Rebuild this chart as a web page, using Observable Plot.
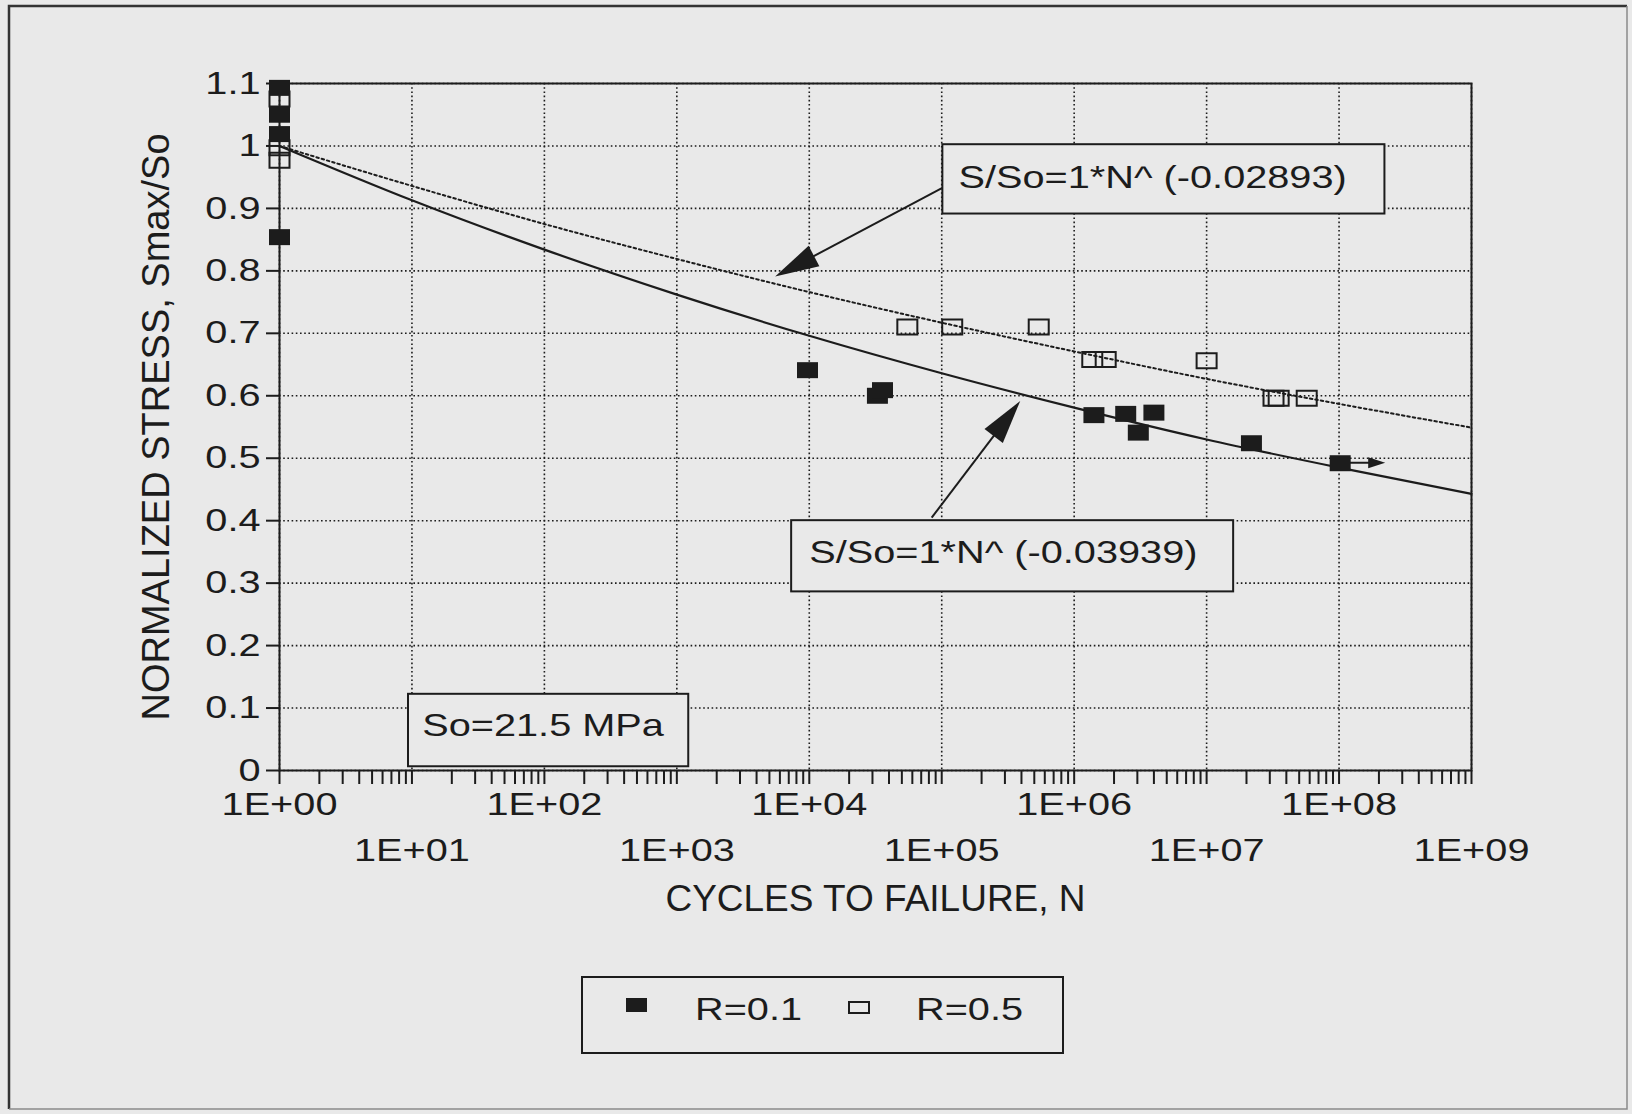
<!DOCTYPE html>
<html><head><meta charset="utf-8">
<script src="https://cdn.jsdelivr.net/npm/d3@7"></script>
<script src="https://cdn.jsdelivr.net/npm/@observablehq/plot@0.6"></script>
<style>
html,body{margin:0;padding:0;background:#e9e9e9;}
#chart svg{display:block;}
</style></head><body><div id="chart"></div>
<script>
// ---------- data ----------
// R = 0.1 (filled squares)
const filledN = [1, 1, 1, 1, 9.7e3, 3.27e4, 3.57e4, 1.41e6, 2.45e6, 3.05e6, 4.0e6, 2.18e7, 1.02e8];
const filledS = [1.093, 1.050, 1.019, 0.854, 0.641, 0.600, 0.609, 0.569, 0.571, 0.541, 0.573, 0.524, 0.492];
// R = 0.5 (open squares)
const openN = [1, 1, 1, 5.5e4, 1.2e5, 5.4e5, 1.37e6, 1.73e6, 1.0e7, 3.2e7, 3.5e7, 5.7e7];
const openS = [1.075, 0.997, 0.977, 0.710, 0.710, 0.710, 0.658, 0.658, 0.656, 0.596, 0.596, 0.596];
// run-out (unbroken specimen) arrow
const runoutFromN = [1.02e8];
const runoutToN = [2.25e8];
const runoutS = [0.492];
// fitted curves, read at each decade
const fitN = [1, 1e1, 1e2, 1e3, 1e4, 1e5, 1e6, 1e7, 1e8, 1e9];
const fitR01 = [1.000, 0.913, 0.834, 0.762, 0.696, 0.636, 0.581, 0.530, 0.485, 0.443];
const fitR05 = [1.000, 0.936, 0.875, 0.819, 0.766, 0.717, 0.671, 0.627, 0.587, 0.549];
// axis ticks & labels
const xEvenTicks = [1, 1e2, 1e4, 1e6, 1e8];
const xEvenLabels = ["1E+00", "1E+02", "1E+04", "1E+06", "1E+08"];
const xOddTicks = [1e1, 1e3, 1e5, 1e7, 1e9];
const xOddLabels = ["1E+01", "1E+03", "1E+05", "1E+07", "1E+09"];
const yTicks = [0, 0.1, 0.2, 0.3, 0.4, 0.5, 0.6, 0.7, 0.8, 0.9, 1, 1.1];
const yTickLabels = ["0", "0.1", "0.2", "0.3", "0.4", "0.5", "0.6", "0.7", "0.8", "0.9", "1", "1.1"];
const xTitle = "CYCLES TO FAILURE, N";
const yTitle = "NORMALIZED STRESS, Smax/So";
// annotation boxes (data coordinates)
const noteText = ["S/So=1*N^ (-0.02893)", "S/So=1*N^ (-0.03939)", "So=21.5 MPa"];
const noteBoxN1 = [1.02e5, 7.36e3, 9.42];
const noteBoxN2 = [2.22e8, 1.60e7, 1.23e3];
const noteBoxS1 = [0.891, 0.286, 0.006];
const noteBoxS2 = [1.002, 0.400, 0.122];
const noteTextN = [1.34e5, 1.0e4, 11.96];
const noteTextS = [0.949, 0.349, 0.071];
// annotation arrows (data coordinates)
const arrowFromN = [1.02e5, 8.47e4];
const arrowFromS = [0.932, 0.404];
const arrowToN = [5.57e3, 3.95e5];
const arrowToS = [0.790, 0.591];
// legend
const legendLabels = ["R=0.1", "R=0.5"];

// ---------- styling ----------
const W = 1632, H = 1114;
const BG = "#e9e9e9";
const INK = "#1c1c1c";
const FONT = "'Liberation Sans', Arial, Helvetica, sans-serif";
const SMALL = 31.5;
const STRETCH = 1.26;

const filled = filledN.map((n, i) => ({N: n, S: filledS[i]}));
const open = openN.map((n, i) => ({N: n, S: openS[i]}));
const curveR01 = fitN.map((n, i) => ({N: n, S: fitR01[i]}));
const curveR05 = fitN.map((n, i) => ({N: n, S: fitR05[i]}));
const notes = noteText.map((t, i) => ({label: t, N1: noteBoxN1[i], N2: noteBoxN2[i], S1: noteBoxS1[i], S2: noteBoxS2[i], tN: noteTextN[i], tS: noteTextS[i]}));
const arrows = arrowFromN.map((n, i) => ({N1: n, S1: arrowFromS[i], N2: arrowToN[i], S2: arrowToS[i], big: true}))
  .concat(runoutFromN.map((n, i) => ({N1: n, S1: runoutS[i], N2: runoutToN[i], S2: runoutS[i], big: false})));

const xTicks = [];
for (let k = 0; k < 9; ++k) for (let m = 1; m < 10; ++m) xTicks.push(m * Math.pow(10, k));
xTicks.push(1e9);

const rectSymbol = (w, h) => ({draw(ctx) { ctx.rect(-w / 2, -h / 2, w, h); }});

function arrowMark(index, scales) {
  const X = scales.x, Y = scales.y;
  const g = d3.create("svg:g");
  for (const a of arrows) {
    const x1 = X(a.N1), y1 = Y(a.S1), x2 = X(a.N2), y2 = Y(a.S2);
    const dx = x2 - x1, dy = y2 - y1, L = Math.hypot(dx, dy);
    const ux = dx / L, uy = dy / L;
    const hl = a.big ? 44 : 17, hw = a.big ? 23 : 11;
    const bx = x2 - ux * hl, by = y2 - uy * hl;
    g.append("line").attr("x1", x1).attr("y1", y1).attr("x2", bx + ux * 3).attr("y2", by + uy * 3)
      .attr("stroke", INK).attr("stroke-width", 2);
    g.append("path")
      .attr("d", `M${x2},${y2}L${bx - uy * hw / 2},${by + ux * hw / 2}L${bx + uy * hw / 2},${by - ux * hw / 2}Z`)
      .attr("fill", INK);
  }
  return g.node();
}

function legendMark() {
  const g = d3.create("svg:g");
  // outer page border
  g.append("path").attr("d", "M9,1109V6H1627").attr("fill", "none").attr("stroke", "#333").attr("stroke-width", 2.5);
  g.append("path").attr("d", "M1627,6V1109H9").attr("fill", "none").attr("stroke", "#8a8a8a").attr("stroke-width", 1.5);
  // legend box
  g.append("rect").attr("x", 582).attr("y", 977).attr("width", 481).attr("height", 76)
    .attr("fill", "none").attr("stroke", INK).attr("stroke-width", 2);
  g.append("rect").attr("x", 626).attr("y", 998).attr("width", 21).attr("height", 14).attr("fill", INK);
  g.append("rect").attr("x", 849).attr("y", 1002).attr("width", 20).attr("height", 11)
    .attr("fill", "none").attr("stroke", INK).attr("stroke-width", 2);
  g.append("text").attr("x", 695).attr("y", 1020).attr("text-anchor", "start").attr("font-size", SMALL).attr("fill", INK).text(legendLabels[0]);
  g.append("text").attr("x", 916).attr("y", 1020).attr("text-anchor", "start").attr("font-size", SMALL).attr("fill", INK).text(legendLabels[1]);
  return g.node();
}

const gridStyle = {stroke: INK, strokeOpacity: 1, strokeWidth: 1.6, strokeDasharray: "1.6,2.6"};

const chart = Plot.plot({
  width: W, height: H,
  marginLeft: 279, marginRight: 161, marginTop: 83, marginBottom: 344,
  style: {background: BG, color: INK, fontFamily: FONT, fontSize: SMALL + "px"},
  x: {type: "log", domain: [1, 1e9]},
  y: {domain: [0, 1.1]},
  marks: [
    Plot.gridX(fitN, gridStyle),
    Plot.gridY(yTicks, gridStyle),
    Plot.line(curveR05, {x: "N", y: "S", stroke: INK, strokeWidth: 2, strokeDasharray: "2.5,3", curve: "monotone-x"}),
    Plot.line(curveR01, {x: "N", y: "S", stroke: INK, strokeWidth: 2.2, curve: "monotone-x"}),
    Plot.rect(notes, {x1: "N1", x2: "N2", y1: "S1", y2: "S2", fill: BG, stroke: INK, strokeWidth: 2}),
    Plot.text(notes, {x: "tN", y: "tS", text: "label", textAnchor: "start", lineAnchor: "middle", fontSize: SMALL, fill: INK}),
    Plot.frame({stroke: INK, strokeWidth: 2}),
    Plot.axisX(xTicks, {tickSize: 14, tickFormat: () => "", stroke: INK, strokeWidth: 2, label: null}),
    Plot.text(xEvenTicks, {x: d => d, text: (d, i) => xEvenLabels[i], frameAnchor: "bottom", textAnchor: "middle", dy: 34, lineAnchor: "middle", fontSize: SMALL, fill: INK}),
    Plot.text(xOddTicks, {x: d => d, text: (d, i) => xOddLabels[i], frameAnchor: "bottom", textAnchor: "middle", dy: 80, lineAnchor: "middle", fontSize: SMALL, fill: INK}),
    Plot.axisY(yTicks, {tickSize: 13, tickPadding: 6, tickFormat: d => yTickLabels[yTicks.indexOf(d)], stroke: INK, strokeWidth: 2, fontSize: SMALL, label: null}),
    Plot.text([yTitle], {text: d => d, frameAnchor: "left", textAnchor: "middle", dx: -123, rotate: -90, lineAnchor: "middle", fontSize: 38, fill: INK}),
    Plot.text([xTitle], {text: d => d, frameAnchor: "bottom", textAnchor: "middle", dy: 129, lineAnchor: "middle", fontSize: 37, fill: INK}),
    arrowMark,
    Plot.dot(filled, {x: "N", y: "S", symbol: rectSymbol(21, 16), fill: INK}),
    Plot.dot(open, {x: "N", y: "S", symbol: rectSymbol(20, 15), fill: "none", stroke: INK, strokeWidth: 2}),
    legendMark
  ]
});

document.getElementById("chart").append(chart);
// horizontally widen the small lettering as in the reference typeface
chart.querySelectorAll("text").forEach(t => {
  const fs = parseFloat(getComputedStyle(t).fontSize);
  if (fs <= 32 && t.textContent.length) {
    const len = t.getComputedTextLength();
    t.setAttribute("textLength", (len * STRETCH).toFixed(1));
    t.setAttribute("lengthAdjust", "spacingAndGlyphs");
  }
});
</script></body></html>
